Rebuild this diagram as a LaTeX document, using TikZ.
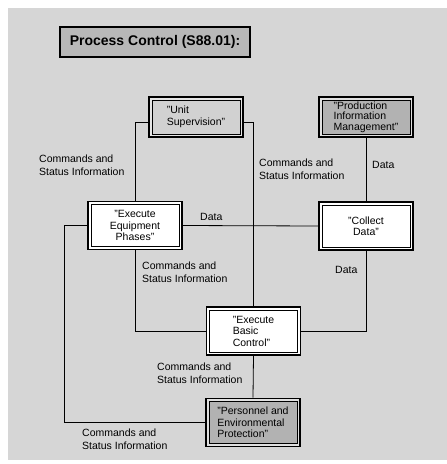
\documentclass[tikz,border=0pt]{standalone}
\usepackage{fontspec}
\setmainfont{Liberation Sans}
\begin{document}
\begin{tikzpicture}[x=1pt, y=-1pt,
    frame/.style={draw=black, line width=1.6pt, fill=#1, minimum width=94pt, minimum height=48pt,
      inner sep=3pt, align=left, font=\fontsize{10.5}{11.5}\selectfont},
    ring/.style={path picture={\path[draw=black, line width=0.6pt, fill=#1]
      ([shift={(3pt,-3pt)}]path picture bounding box.north west) rectangle
      ([shift={(-3pt,3pt)}]path picture bounding box.south east);}},
    wire/.style={draw=black, line width=0.8pt},
    note/.style={anchor=west, align=left, inner sep=0pt, font=\fontsize{10.5}{13}\selectfont}]
    \useasboundingbox (0, 0) rectangle (447, 464);
    \path[fill=black!16] (8, 8) rectangle (447, 460);
    % \draw[help lines] (0, 0) grid[step=50] (447, 464);
    \node[draw=black, line width=1.6pt, fill=black!28, minimum width=190pt, minimum height=30pt,
      font=\fontsize{14}{16}\selectfont\bfseries] (title) at (155, 42) {Process Control (S88.01):};
    \node[frame=black!10, ring=black!18, minimum height=40pt] (unit) at (196, 117) {"Unit\\Supervision"};
    \node[frame=black!12, ring=black!30, minimum height=40pt, font=\fontsize{10.5}{10.5}\selectfont]
      (info) at (366, 117) {"Production\\Information\\Management"};
    \node[frame=white, ring=white, align=center] (phases) at (135, 225.5) {"Execute\\Equipment\\Phases"};
    \node[frame=white, ring=white, align=center] (collect) at (366, 226) {"Collect\\Data"};
    \node[frame=white, ring=white] (basic) at (253.5, 331) {"Execute\\Basic\\Control"};
    \node[frame=black!12, ring=black!30] (safety) at (253, 422.5) {"Personnel and\\Environmental\\Protection"};
    % wires from unit supervision
    \path[wire] ([yshift=-5pt]unit.west) -| (phases.north);
    \path[wire] ([yshift=-5pt]unit.east) -| (basic.north);
    % data wires
    \path[wire] (info.south) -- (collect.north);
    \path[wire] (phases.east) -- (collect.west);
    \path[wire] (collect.south) |- (basic.east);
    % wires down to basic control and protection
    \path[wire] (phases.south) |- (basic.west);
    \path[wire] (basic.south) -- (safety.north);
    \path[wire] (phases.west) -- ++(-23, 0) |- (safety.west);
    % labels
    \node[note] (cmdA) at (39, 165) {Commands and\\Status Information};
    \node[note] (cmdB) at (259, 169) {Commands and\\Status Information};
    \node[note] (cmdC) at (142, 272.5) {Commands and\\Status Information};
    \node[note] (cmdD) at (157, 373) {Commands and\\Status Information};
    \node[note] (cmdE) at (82, 439.5) {Commands and\\Status Information};
    \node[note] (dataA) at (372, 165) {Data};
    \node[note] (dataB) at (200, 217) {Data};
    \node[note] (dataC) at (335, 270) {Data};
  \end{tikzpicture}
\end{document}
